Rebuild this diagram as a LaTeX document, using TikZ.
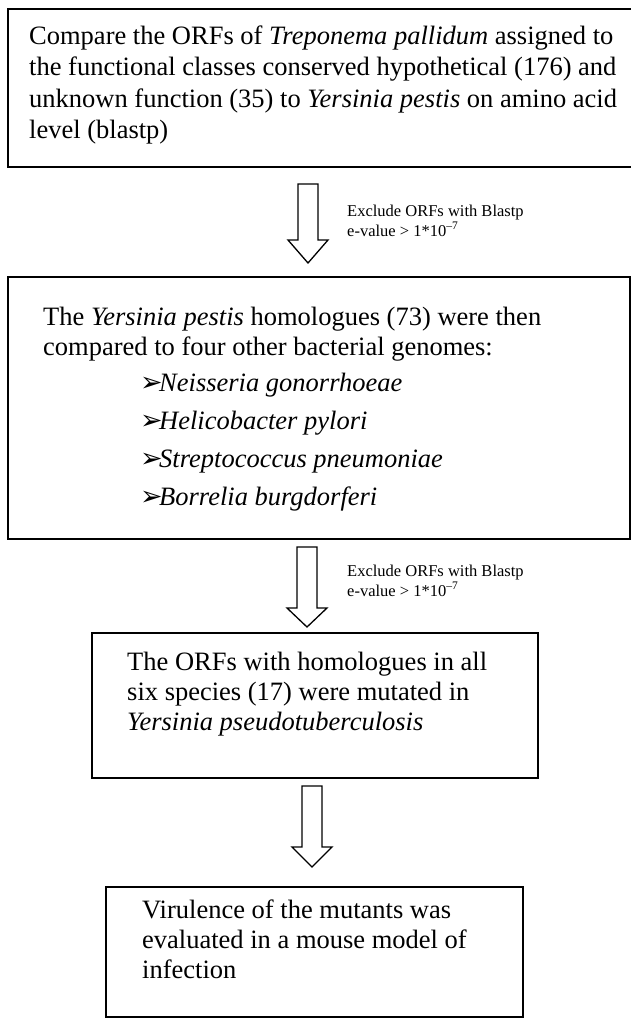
\documentclass[tikz,border=0pt]{standalone}
\usepackage{fontspec}
\setmainfont{Liberation Serif}
\newfontfamily\dingfont{DejaVu Sans}
\usepackage{tikz}
\usetikzlibrary{positioning}

\begin{document}
\begin{tikzpicture}[x=1pt, y=-1pt,
    stagebox/.style={draw, line width=1.6pt, inner sep=0pt, anchor=north west},
    bodytext/.style={anchor=base west, inner sep=0pt, font=\fontsize{26.5}{31}\selectfont},
    notetext/.style={anchor=base west, inner sep=0pt, font=\fontsize{16.5}{19}\selectfont},
    hollowarrow/.style={draw, line width=1.3pt, fill=white, line join=miter}]
  \useasboundingbox (0,0) rectangle (630,1018);

  \node[stagebox, minimum width=636pt, minimum height=158pt] (box1) at (7,8) {};
  \node[stagebox, minimum width=622pt, minimum height=262pt] (box2) at (7,276) {};
  \node[stagebox, minimum width=446pt, minimum height=145pt] (box3) at (91,632) {};
  \node[stagebox, minimum width=417pt, minimum height=130pt] (box4) at (105,886) {};

  \foreach \l [count=\k from 0] in {
      {Compare the ORFs of \textit{Treponema pallidum} assigned to},
      {the functional classes conserved hypothetical (176) and},
      {unknown function (35) to \textit{Yersinia pestis} on amino acid},
      {level (blastp)}} {
    \node[bodytext] (one\k) at (29,{44+31.5*\k}) {\l};
  }

  \node[bodytext] (two0) at (43,325) {The \textit{Yersinia pestis} homologues (73) were then};
  \node[bodytext] (two1) at (43,355) {compared to four other bacterial genomes:};
  \foreach \sp [count=\k from 0] in {Neisseria gonorrhoeae, Helicobacter pylori,
      Streptococcus pneumoniae, Borrelia burgdorferi} {
    \node[bodytext] (bullet\k) at (140,{391+38*\k}) {\dingfont\fontsize{27}{27}\selectfont ➢};
    \node[bodytext] (species\k) at (159,{391+38*\k}) {\textit{\sp}};
  }

  \foreach \l [count=\k from 0] in {
      {The ORFs with homologues in all},
      {six species (17) were mutated in},
      {\textit{Yersinia pseudotuberculosis}}} {
    \node[bodytext] (three\k) at (127,{670+30*\k}) {\l};
  }

  \foreach \l [count=\k from 0] in {
      {Virulence of the mutants was},
      {evaluated in a mouse model of},
      {infection}} {
    \node[bodytext] (four\k) at (142,{918+30*\k}) {\l};
  }

  \foreach \a/\cx/\ytop/\ybase/\ytip in {arr1/308/184/240/263, arr2/307/547/608/627, arr3/312/786/847/867} {
    \coordinate (\a) at (\cx,\ytop);
    \draw[hollowarrow] ({\cx-10},\ytop) -- ({\cx+10},\ytop) -- ({\cx+10},\ybase) -- ({\cx+20},\ybase)
      -- (\cx,\ytip) -- ({\cx-20},\ybase) -- ({\cx-10},\ybase) -- cycle;
  }

  \node[notetext] (note1) at (347,216) {Exclude ORFs with Blastp};
  \node[notetext] (note1b) at (347,236) {e-value > 1*10\textsuperscript{--7}};
  \node[notetext] (note2) at (347,576) {Exclude ORFs with Blastp};
  \node[notetext] (note2b) at (347,596) {e-value > 1*10\textsuperscript{--7}};
\end{tikzpicture}
\end{document}
